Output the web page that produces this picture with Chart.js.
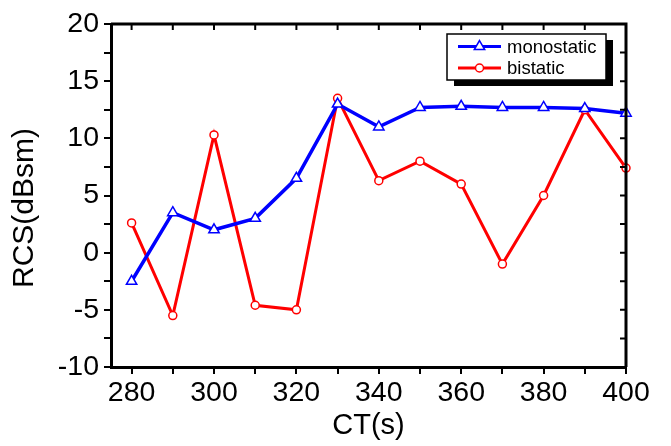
<!DOCTYPE html>
<html>
<head>
<meta charset="utf-8">
<script src="https://cdn.jsdelivr.net/npm/chart.js@4"></script>
<style>
    html, body { margin: 0; padding: 0; background: #fff; }
    #wrap { width: 671px; height: 446px; }
</style>
</head>
<body>
<div id="wrap"><canvas id="rcsChart" width="671" height="446"></canvas></div>
<script>
// Datos del gráfico
const ct = [280, 290, 300, 310, 320, 330, 340, 350, 360, 370, 380, 390, 400];
const monostatic = [-2.5, 3.5, 2.0, 3.0, 6.5, 13.0, 11.0, 12.7, 12.8, 12.7, 12.7, 12.6, 12.2];
const bistatic = [2.6, -5.5, 10.3, -4.6, -5.0, 13.5, 6.3, 8.0, 6.0, -1.0, 5.0, 12.5, 7.4];

// Marcas de los ejes
const xTicks = [280, 290, 300, 310, 320, 330, 340, 350, 360, 370, 380, 390, 400];
const yTicks = [-10, -7.5, -5, -2.5, 0, 2.5, 5, 7.5, 10, 12.5, 15, 17.5, 20];

const FONT = 'Liberation Sans, Arial, sans-serif';

// Función auxiliar para pares x/y
function toPoints(values) {
    return ct.map((x, i) => ({ x: x, y: values[i] }));
}

// Marco superior y derecho con marcas hacia dentro
const framePlugin = {
    id: 'frame',
    afterDraw(chart) {
        const { ctx, chartArea: a, scales } = chart;
        ctx.save();
        ctx.strokeStyle = '#000';
        ctx.lineWidth = 3;
        ctx.beginPath();
        ctx.moveTo(a.left, a.top);
        ctx.lineTo(a.right, a.top);
        ctx.lineTo(a.right, a.bottom);
        ctx.stroke();
        ctx.lineWidth = 2;
        ctx.beginPath();
        xTicks.forEach(v => {
            const px = scales.x.getPixelForValue(v);
            ctx.moveTo(px, a.top);
            ctx.lineTo(px, a.top + 6);
        });
        yTicks.forEach(v => {
            const py = scales.y.getPixelForValue(v);
            ctx.moveTo(a.right, py);
            ctx.lineTo(a.right - 6, py);
        });
        ctx.stroke();
        ctx.restore();
    }
};

// Leyenda con sombra
const legendPlugin = {
    id: 'boxLegend',
    afterDraw(chart) {
        const { ctx, chartArea: a } = chart;
        const w = 159, h = 46;
        const x0 = a.right - 20 - w;
        const y0 = a.top + 10;
        ctx.save();
        ctx.fillStyle = '#000';
        ctx.fillRect(x0 + 7, y0 + 6, w, h);
        ctx.fillStyle = '#fff';
        ctx.fillRect(x0, y0, w, h);
        ctx.strokeStyle = '#000';
        ctx.lineWidth = 1.5;
        ctx.strokeRect(x0, y0, w, h);

        chart.data.datasets.forEach((ds, i) => {
            const cy = y0 + 12.5 + i * 21.5;
            const lx = x0 + 11;
            ctx.strokeStyle = ds.borderColor;
            ctx.lineWidth = 3;
            ctx.beginPath();
            ctx.moveTo(lx, cy);
            ctx.lineTo(lx + 43, cy);
            ctx.stroke();
            ctx.fillStyle = ds.pointBackgroundColor;
            ctx.strokeStyle = ds.pointBorderColor;
            ctx.lineWidth = ds.pointBorderWidth;
            Chart.helpers.drawPoint(ctx, {
                pointStyle: ds.pointStyle,
                radius: ds.pointRadius,
                borderWidth: ds.pointBorderWidth,
                rotation: 0
            }, lx + 21.5, cy);
            ctx.fillStyle = '#000';
            ctx.font = '18.5px ' + FONT;
            ctx.textBaseline = 'middle';
            ctx.fillText(ds.label, lx + 49, cy + 1);
        });
        ctx.restore();
    }
};

const chartCtx = document.getElementById('rcsChart').getContext('2d');
new Chart(chartCtx, {
    type: 'line',
    data: {
        datasets: [{
            label: 'monostatic',
            data: toPoints(monostatic),
            borderColor: '#0000ff',
            borderWidth: 3.5,
            pointStyle: 'triangle',
            pointRadius: 6,
            pointBorderWidth: 1.5,
            pointBackgroundColor: '#ffffff',
            pointBorderColor: '#0000ff',
            tension: 0
        }, {
            label: 'bistatic',
            data: toPoints(bistatic),
            borderColor: '#ff0000',
            borderWidth: 3,
            pointStyle: 'circle',
            pointRadius: 4,
            pointBorderWidth: 1.5,
            pointBackgroundColor: '#ffffff',
            pointBorderColor: '#ff0000',
            tension: 0
        }]
    },
    options: {
        responsive: false,
        animation: false,
        clip: false,
        layout: { padding: { top: 24, right: 45, left: 0, bottom: 0 } },
        plugins: {
            legend: { display: false },
            tooltip: { enabled: false }
        },
        scales: {
            x: {
                type: 'linear',
                min: 275,
                max: 400,
                afterBuildTicks: scale => { scale.ticks = xTicks.map(v => ({ value: v })); },
                afterFit: scale => { scale.height = 79; },
                border: { display: true, color: '#000', width: 3 },
                grid: { drawOnChartArea: false, drawTicks: true, tickLength: 7, color: '#000', lineWidth: 2 },
                ticks: {
                    color: '#000',
                    padding: 2,
                    maxRotation: 0,
                    autoSkip: false,
                    font: { family: FONT, size: 28.5 },
                    callback: v => (v % 20 === 0 ? String(v) : '')
                },
                title: {
                    display: true,
                    text: 'CT(s)',
                    color: '#000',
                    padding: { top: 0, bottom: 3 },
                    font: { family: FONT, size: 29 }
                }
            },
            y: {
                min: -10,
                max: 20,
                afterBuildTicks: scale => { scale.ticks = yTicks.map(v => ({ value: v })); },
                afterFit: scale => { scale.width = 111; },
                border: { display: true, color: '#000', width: 3 },
                grid: { drawOnChartArea: false, drawTicks: true, tickLength: 7, color: '#000', lineWidth: 2 },
                ticks: {
                    color: '#000',
                    padding: 5,
                    autoSkip: false,
                    font: { family: FONT, size: 28.5 },
                    callback: v => (v % 5 === 0 ? String(v) : '')
                },
                title: {
                    display: true,
                    text: 'RCS(dBsm)   ',
                    color: '#000',
                    padding: { top: 7, bottom: 0 },
                    font: { family: FONT, size: 30 }
                }
            }
        }
    },
    plugins: [framePlugin, legendPlugin]
});
</script>
</body>
</html>
